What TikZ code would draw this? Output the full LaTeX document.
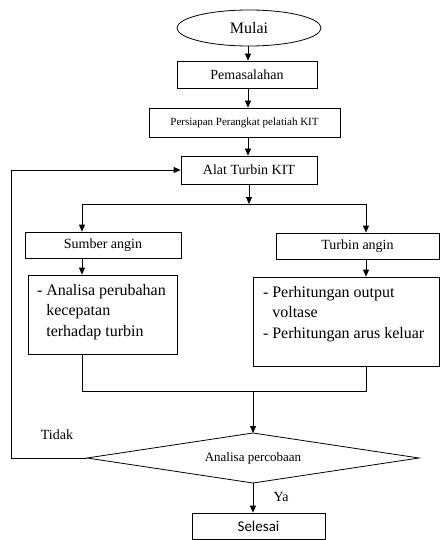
\documentclass[tikz,border=0pt]{standalone}
\usepackage{fontspec}
\setmainfont{Liberation Serif}
\newfontfamily\selfont{Carlito}
\usetikzlibrary{shapes.geometric, arrows.meta}
\begin{document}
\begin{tikzpicture}[x=1pt,y=-1pt, line width=0.8pt,
  box/.style={draw, rectangle, inner sep=0pt},
  arr/.style={-{Triangle[length=7pt,width=6pt]}},
  fs/.style={font=\fontsize{#1}{20.5}\selectfont}]
\useasboundingbox[fill=white] (0,0) rectangle (440,540);
\node[draw, ellipse, minimum width=144, minimum height=36, inner sep=0pt, fs=16] (mulai) at (249,28) {Mulai};
\node[box, minimum width=140, minimum height=27, fs=14] (pem) at (247,74.5) {Pemasalahan};
\node[box, minimum width=191, minimum height=29, fs=11] (pers) at (244.5,122.5) {Persiapan Perangkat pelatiah KIT};
\node[box, minimum width=136, minimum height=28, fs=14] (alat) at (249,170) {Alat Turbin KIT};
\node[box, minimum width=156, minimum height=26, fs=14] (sumber) at (103,245) {Sumber angin};
\node[box, minimum width=163, minimum height=26, fs=14] (turbin) at (357.5,246) {Turbin angin};
\node[box, minimum width=149, minimum height=79] (left2) at (102.5,314.5) {};
\node[anchor=north west, align=left, inner sep=0pt, fs=16] (ltext) at ([shift={(9,9)}]left2.north west)
  {- Analisa perubahan\\\phantom{- }kecepatan\\\phantom{- }terhadap turbin};
\node[box, minimum width=186, minimum height=89] (right2) at (346,321.5) {};
\node[anchor=north west, align=left, inner sep=0pt, fs=16] (rtext) at ([shift={(10,9)}]right2.north west)
  {- Perhitungan output\\\phantom{- }voltase\\- Perhitungan arus keluar};
\node[fs=13] (dia) at (253,458) {Analisa percobaan};
\coordinate (dtop) at (253,433);
\coordinate (dbot) at (253,483);
\coordinate (dl) at (87,458);
\coordinate (dr) at (419,458);
\draw (dtop) -- (dr) -- (dbot) -- (dl) -- cycle;
\node[box, minimum width=133, minimum height=26, font=\selfont\fontsize{15}{18}\selectfont] (sel) at (258.5,526) {Selesai};
\node[fs=14] (tidak) at (57,435) {Tidak};
\node[fs=14] (ya) at (281,497) {Ya};

\coordinate (cx) at (248,0);
\coordinate (split) at (249,204);
\coordinate (sl) at (82,204);
\coordinate (sr) at (366,204);
\coordinate (jl) at (82,391);
\coordinate (jr) at (366,391);
\coordinate (jm) at (253,391);
\coordinate (fb) at (11,458);

\draw[arr] (mulai.south -| cx) -- (pem.north -| cx);
\draw[arr] (pem.south -| cx) -- (pers.north -| cx);
\draw[arr] (pers.south -| cx) -- (alat.north -| cx);
\draw[arr] (alat.south) -- (split);
\draw (sl) -- (sr);
\draw[arr] (sl) -- (sl |- sumber.north);
\draw[arr] (sr) -- (sr |- turbin.north);
\draw[arr] (sl |- sumber.south) -- (sl |- left2.north);
\draw[arr] (sr |- turbin.south) -- (sr |- right2.north);
\draw (sl |- left2.south) -- (jl) -- (jr) -- (sr |- right2.south);
\draw[arr] (jm) -- (dtop);
\draw[arr] (dbot) -- (dbot |- sel.north);
\draw[arr] (dl) -- (fb) |- (alat.west);
\end{tikzpicture}
\end{document}
